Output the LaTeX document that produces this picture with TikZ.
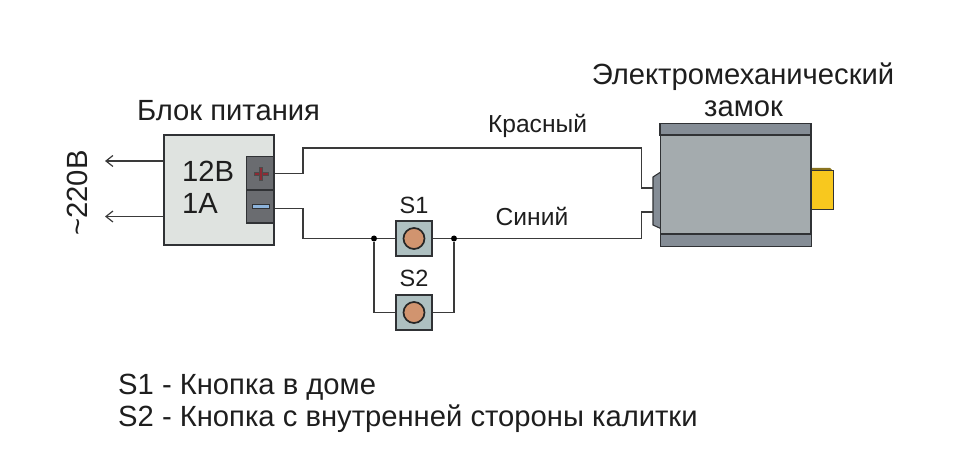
\documentclass[tikz,border=0pt]{standalone}
\usepackage{fontspec}
\usetikzlibrary{arrows.meta}
\setmainfont{Liberation Sans}
\definecolor{psufill}{HTML}{DFE3E0}
\definecolor{termfill}{HTML}{6A6C70}
\definecolor{lockfill}{HTML}{A4ABAE}
\definecolor{bandfill}{HTML}{858D96}
\definecolor{btnfill}{HTML}{AEC0C1}
\definecolor{capfill}{HTML}{D1946F}
\definecolor{boltfill}{HTML}{F8C81E}
\definecolor{boltedge}{HTML}{8A7420}
\definecolor{edgecol}{HTML}{303235}
\definecolor{wirecol}{HTML}{3A3A3A}
\definecolor{pluscol}{HTML}{8E2A34}
\definecolor{minuscol}{HTML}{8DB4DC}
\definecolor{inkcol}{HTML}{1E1E1E}
\tikzset{
  box/.style={draw=edgecol, line width=1.3pt, inner sep=0pt, minimum width=#1},
  btn/.style={box=36pt, minimum height=35pt, fill=btnfill},
  term/.style={box=27.5pt, minimum height=33.2pt, fill=termfill},
  wire/.style={draw=wirecol, line width=1.1pt},
  feed/.style={wire, -{Straight Barb[length=7pt, width=11pt, line width=1.2pt]}},
  lbl/.style={font=\fontsize{29.2}{29.2}\selectfont, text=inkcol, inner sep=0pt},
  mid/.style={font=\fontsize{24.6}{24.6}\selectfont, text=inkcol, inner sep=0pt},
  small/.style={font=\fontsize{23.5}{23.5}\selectfont, text=inkcol, inner sep=0pt},
  dot/.style={circle, fill=black, inner sep=0pt, minimum size=6pt},
  btncap/.style={circle, draw=black!85, line width=1.7pt, fill=capfill, minimum size=21pt, inner sep=0pt}
}
\begin{document}
\begin{tikzpicture}[x=1pt, y=-1pt]
  \useasboundingbox (0, 0) rectangle (964, 449);

  % power supply
  \node[box=110pt, minimum height=110pt, fill=psufill] (psu) at (219, 190) {};
  \node[term] (plusterm) at (260.2, 173.3) {};
  \node[term] (minusterm) at (260.2, 206.5) {};
  \draw[black!70, line width=.5pt, fill=pluscol] (254, 172) rectangle (268, 175);
  \draw[black!70, line width=.5pt, fill=pluscol] (259.5, 167) rectangle (262.5, 180);
  \draw[edgecol, fill=minuscol, line width=.7pt] (252.5, 204.5) rectangle (269, 208.5);
  \node[lbl, anchor=base west] (volt) at (182, 182) {12В};
  \node[lbl, anchor=base west] (amp) at (182, 214) {1А};
  \node[lbl, anchor=base] (psutitle) at (228.5, 120.5) {Блок питания};

  % mains
  \coordinate (mainsa) at (105, 161);
  \coordinate (mainsb) at (105, 216.5);
  \draw[feed] (psu.west |- mainsa) -- (mainsa);
  \draw[feed] (psu.west |- mainsb) -- (mainsb);
  \node[lbl, rotate=90, anchor=base] (mains) at (87, 193) {\textasciitilde220В};

  % lock
  \fill[boltedge] (811, 168) -- (830, 168) -- (833, 171) -- (811, 171) -- cycle;
  \node[draw=edgecol, line width=1pt, fill=boltfill, inner sep=0pt, minimum width=22pt, minimum height=39pt] (bolt) at (822, 190.5) {};
  \draw[edgecol, line width=1.1pt, fill=bandfill] (660.7, 172) -- (653, 177) -- (653, 225) -- (660.7, 228.5) -- cycle;
  \node[box=150.3pt, minimum height=122pt, fill=lockfill] (lock) at (735.8, 185) {};
  \draw[edgecol, line width=1.3pt, fill=bandfill] (lock.north west) rectangle (811, 135);
  \draw[edgecol, line width=1.3pt, fill=bandfill] (660.7, 234) rectangle (lock.south east);
  \coordinate (pinp) at (653, 188);
  \coordinate (pinm) at (653, 212);
  \node[lbl, anchor=base] (locka) at (743, 84.5) {Электромеханический};
  \node[lbl, anchor=base] (lockb) at (743.5, 116.5) {замок};

  % wires
  \node[dot] (ja) at (374, 238.5) {};
  \node[dot] (jb) at (454, 238.5) {};
  \coordinate (sapos) at (414, 238.5);
  \coordinate (sbpos) at (414, 312.5);
  \draw[wire] (plusterm.east) -- (303, 173.3) -- (303, 148) -- (641.7, 148) -- (641.7, 188) -- (pinp);
  \draw[wire] (minusterm.east |- 0, 208.5) -- (303, 208.5) -- (303, 238.5) -- (ja) -- (sapos);
  \draw[wire] (sapos) -- (jb) -- (641.7, 238.5) -- (641.7, 212) -- (pinm);
  \draw[wire] (ja) |- (sbpos);
  \draw[wire] (jb) |- (sbpos);

  % buttons
  \node[btn] (sa) at (sapos) {};
  \node[btn] (sb) at (sbpos) {};
  \node[btncap] (capa) at (sa) {};
  \node[btncap] (capb) at (sb) {};
  \node[small, anchor=base] (salabel) at (414, 214) {S1};
  \node[small, anchor=base] (sblabel) at (414, 287) {S2};
  \node[mid, anchor=base] (red) at (537.5, 132.5) {Красный};
  \node[mid, anchor=base] (blue) at (532, 225.5) {Синий};

  % legend
  \node[lbl, anchor=base west] (lega) at (118, 394.5) {S1 - Кнопка в доме};
  \node[lbl, anchor=base west] (legb) at (118, 426.5) {S2 - Кнопка с внутренней стороны калитки};
\end{tikzpicture}
\end{document}
